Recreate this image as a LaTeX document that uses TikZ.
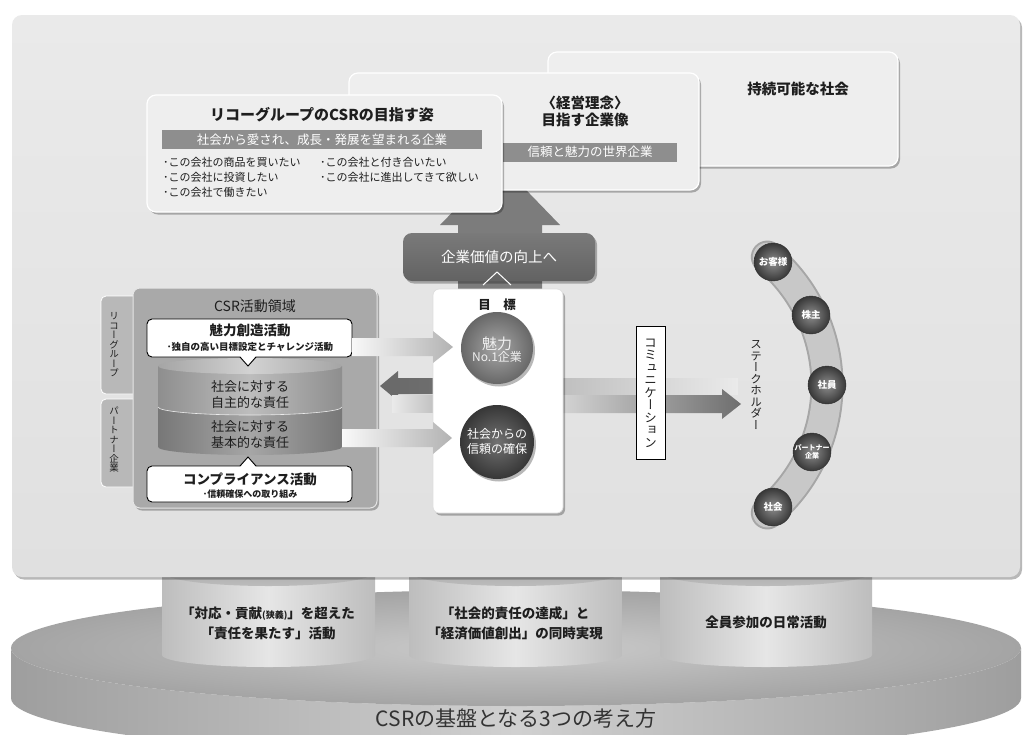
\documentclass[tikz,border=0pt]{standalone}
\usepackage{fontspec}
\setmainfont{Noto Sans CJK JP}
\newfontfamily\jpv[RawFeature=+vert]{Noto Sans CJK JP}
\usetikzlibrary{shadows}
\definecolor{panelA}{HTML}{EAEAEA}
\definecolor{panelB}{HTML}{E0E0E0}
\definecolor{boxfill}{HTML}{EEEEEE}
\definecolor{barfill}{HTML}{8E8E8E}
\definecolor{darkboxA}{HTML}{7A7A7A}
\definecolor{darkboxB}{HTML}{626262}
\definecolor{uparrow}{HTML}{7C7C7C}
\definecolor{csrfill}{HTML}{A9A9A9}
\definecolor{tabfill}{HTML}{B8B8B8}
\definecolor{ballA}{HTML}{8A8A8A}
\definecolor{ballB}{HTML}{4E4E4E}
\definecolor{ballS}{HTML}{505050}
\definecolor{bandout}{HTML}{A6A6A6}
\definecolor{bandin}{HTML}{C8C8C8}
\definecolor{txt}{HTML}{1E1E1E}
\definecolor{arrdark}{HTML}{6E6E6E}
\definecolor{arrlight}{HTML}{D4D4D4}
\definecolor{platE}{HTML}{9E9E9E}
\definecolor{platM}{HTML}{D0D0D0}
\definecolor{platI}{HTML}{CCCCCC}
\definecolor{platO}{HTML}{A4A4A4}
\definecolor{cylE}{HTML}{BDBDBD}
\definecolor{cylM}{HTML}{E6E6E6}
\definecolor{cylT}{HTML}{A2A2A2}
\definecolor{cylB}{HTML}{BCBCBC}
\definecolor{segUE}{HTML}{8E8E8E}
\definecolor{segUM}{HTML}{BDBDBD}
\definecolor{segLE}{HTML}{777777}
\definecolor{segLM}{HTML}{A6A6A6}
\definecolor{segTop}{HTML}{D2D2D2}
\newcommand\fsz[2]{\fontsize{#1}{#2}\selectfont}
\begin{document}
\begin{tikzpicture}[x=1pt,y=-1pt,
  every node/.style={inner sep=0pt, outer sep=0pt, text=txt},
  shadowed/.style={drop shadow={opacity=0.28, shadow xshift=2pt, shadow yshift=-2.5pt, fill=black}},
  bigbox/.style={anchor=north west, draw=white, line width=1.2pt, fill=boxfill, rounded corners=9pt, shadowed},
  bar/.style={fill=barfill, text=white, font=\fsz{12.5}{14}},
  callout/.style={anchor=north west, draw=black, line width=0.9pt, fill=white, rounded corners=5pt},
  bullet/.style={anchor=west, font=\fsz{11}{12}},
  btitle/.style={font=\bfseries\fsz{14.5}{17}},
  tabbox/.style={anchor=north west, fill=tabfill, draw=white, line width=0.8pt, rounded corners=5pt, minimum width=45pt},
  vtext/.style={align=center, font=\jpv\fsz{#1}{#1}},
  sball/.style={circle, minimum size=38pt, inner color=ballS!65!white, outer color=ballS!70!black, draw=ballS!60!black, line width=0.4pt, text=white, font=\bfseries\fsz{9.5}{10}},
  cyltext/.style={align=center, font=\bfseries\fsz{13.5}{20}},
  segtext/.style={align=center, font=\fsz{13}{16}}
]
\clip (0,0) rectangle (1032,734);
\fill[white] (0,0) rectangle (1032,734);

% ---------- base platform ----------
\path[left color=platE, right color=platE, middle color=platM]
  (11,648) -- (11,698) arc[start angle=180,end angle=0,x radius=505,y radius=58]
  -- (1021,648) arc[start angle=0,end angle=180,x radius=505,y radius=58] -- cycle;
\path[inner color=platI, outer color=platO] (516,648) ellipse[x radius=505, y radius=58];
\node[font=\fsz{21}{22}, text=black!80] (basetitle) at (516,719) {CSRの基盤となる3つの考え方};

% ---------- three pillars ----------
\foreach \xl/\xr in {162/375,409/622,660/872}{
  \pgfmathsetmacro\rx{(\xr-\xl)/2}
  \path[left color=cylE, right color=cylE, middle color=cylM]
    (\xl,560) -- (\xl,655) arc[start angle=180,end angle=0,x radius=\rx,y radius=12] -- (\xr,560) -- cycle;
  \path[top color=cylT, bottom color=cylB]
    (\xl,560) -- (\xl,572) arc[start angle=180,end angle=0,x radius=\rx,y radius=14] -- (\xr,560) -- cycle;
}
\node[cyltext] (p1) at (268,623) {「対応・貢献{\fsz{9}{10}(狭義)}」を超えた\\「責任を果たす」活動};
\node[cyltext] (p2) at (515,623) {「社会的責任の達成」と\\「経済価値創出」の同時実現};
\node[cyltext] (p3) at (766,622) {全員参加の日常活動};

% ---------- main panel ----------
\node[anchor=north west, minimum width=1008pt, minimum height=562pt, rounded corners=10pt,
      top color=panelA, bottom color=panelB, shadowed] (panel) at (12,15) {};

% ---------- upward arrow ----------
\fill[uparrow] (458,292) -- (458,225) -- (440,225) -- (500,163) -- (560,225) -- (542,225) -- (542,292) -- cycle;

% ---------- top boxes ----------
\node[bigbox, minimum width=350pt, minimum height=114pt] (sus) at (548,52) {};
\node[btitle] (sustext) at (798,89) {持続可能な社会};

\node[bigbox, minimum width=350pt, minimum height=117pt] (phil) at (349,73) {};
\node[btitle, align=center, font=\bfseries\fsz{14.5}{17}] (philtext) at (585,111) {〈経営理念〉\\目指す企業像};
\node[bar, minimum width=174pt, minimum height=19pt] (philbar) at (590,152) {信頼と魅力の世界企業};

\node[bigbox, minimum width=355pt, minimum height=117pt] (vision) at (147,95) {};
\node[btitle, font=\bfseries\fsz{15}{17}] (visiontitle) at (322,115) {リコーグループのCSRの目指す姿};
\node[bar, minimum width=320pt, minimum height=19pt] (visionbar) at (322,139.5) {社会から愛され、成長・発展を望まれる企業};
\node[bullet] (b1) at (163,162) {･この会社の商品を買いたい};
\node[bullet] (b2) at (163,177) {･この会社に投資したい};
\node[bullet] (b3) at (163,192) {･この会社で働きたい};
\node[bullet] (b4) at (320,162) {･この会社と付き合いたい};
\node[bullet] (b5) at (320,177) {･この会社に進出してきて欲しい};

% ---------- stakeholders ----------
\draw[bandout, line width=33pt, line cap=round] ([shift={(660,385)}]-50:167) arc[start angle=-50, end angle=50, radius=167];
\draw[bandin, line width=29pt, line cap=round] ([shift={(660,385)}]-50:167) arc[start angle=-50, end angle=50, radius=167];
\node[sball] (s1) at (773,262) {お客様};
\node[sball] (s2) at (811,315) {株主};
\node[sball] (s3) at (827,385) {社員};
\node[sball, align=center, font=\bfseries\fsz{7}{8}] (s4) at (812,452) {パートナー\\企業};
\node[sball] (s5) at (773,507) {社会};
\node[vtext=11.5] (stake) at (756,385) {ス\\テ\\ー\\ク\\ホ\\ル\\ダ\\ー};

% ---------- horizontal band arrows (behind goal box) ----------
\path[left color=arrdark!95!black, right color=arrdark]
  (433,378) -- (398,378) -- (398,371) -- (380,386) -- (398,401) -- (398,394) -- (433,394) -- cycle;
\path[left color=arrlight!90!black, right color=panelA] (560,378) rectangle (738,394);
\path[left color=panelA, right color=arrlight!90!black] (392,395) rectangle (436,412);
\path[left color=arrlight, right color=arrdark]
  (560,395) -- (722,395) -- (722,389) -- (741,404) -- (722,419) -- (722,413) -- (560,413) -- cycle;

% ---------- CSR activity area ----------
\node[tabbox, minimum height=98pt] (tab1) at (101,296) {};
\node[tabbox, minimum height=88pt] (tab2) at (101,399) {};
\node[vtext=9.5] (tab1text) at (114,345) {リ\\コ\\ー\\グ\\ル\\ー\\プ};
\node[vtext=9.5] (tab2text) at (114,440) {パ\\ー\\ト\\ナ\\ー\\企\\業};
\node[anchor=north west, minimum width=244pt, minimum height=220pt, rounded corners=7pt,
      fill=csrfill, draw=white!80!gray, line width=1pt, shadowed] (csr) at (133,288) {};
\node[font=\fsz{14}{16}] (csrtitle) at (255,306) {CSR活動領域};

% cylinder
\path[left color=segLE, right color=segLE, middle color=segLM]
  (158,407) -- (158,447) arc[start angle=180,end angle=0,x radius=92,y radius=8] -- (342,407) -- cycle;
\path[left color=segUE, right color=segUE, middle color=segUM]
  (158,366) -- (158,407) arc[start angle=180,end angle=0,x radius=92,y radius=8] -- (342,366) -- cycle;
\draw[white!85!gray, line width=0.6pt] (158,407) arc[start angle=180,end angle=0,x radius=92,y radius=8];
\path[left color=segUE!80!white, right color=segUE!80!white, middle color=segTop] (250,366) ellipse[x radius=92, y radius=8];
\node[segtext] (seg1) at (250,395) {社会に対する\\自主的な責任};
\node[segtext] (seg2) at (250,435) {社会に対する\\基本的な責任};

% callouts
\node[callout, minimum width=205pt, minimum height=38pt] (attr) at (147,319) {};
\fill[white] (240,356) -- (256,356) -- (248,366) -- cycle;
\draw[line width=0.9pt] (240,357) -- (248,366) -- (256,357);
\node[font=\bfseries\fsz{13.5}{15}] (attrt) at (250,330) {魅力創造活動};
\node[font=\bfseries\fsz{9.5}{11}] (attrs) at (250,347) {･独自の高い目標設定とチャレンジ活動};

\node[callout, minimum width=205pt, minimum height=36pt] (comp) at (147,466) {};
\fill[white] (240,467) -- (256,467) -- (248,457) -- cycle;
\draw[line width=0.9pt] (240,466) -- (248,457) -- (256,466);
\node[font=\bfseries\fsz{13.5}{15}] (compt) at (250,479) {コンプライアンス活動};
\node[font=\bfseries\fsz{9}{10}] (comps) at (250,494) {･信頼確保への取り組み};

% ---------- corporate value box and goal box ----------
\node[minimum width=192pt, minimum height=48pt, rounded corners=9pt, top color=darkboxA, bottom color=darkboxB,
      shadowed, text=white, font=\fsz{14.5}{16}] (value) at (499,257) {企業価値の向上へ};
\node[anchor=north west, minimum width=130pt, minimum height=224pt, rounded corners=6pt,
      fill=white, draw=gray!25, line width=0.8pt, shadowed] (goal) at (433,289) {};
\draw[white, line width=1pt] (483,285) -- (497,272) -- (511,285);
\node[font=\bfseries\fsz{12.5}{14}] (goaltitle) at (497,305) {目\hspace{1em}標};
\node[circle, minimum size=72pt, inner color=ballA!75!white, outer color=ballA!75!black, shadowed] (g1) at (497,348) {};
\node[align=center, text=white!88!gray] (g1t) at (497,350) {{\fsz{15}{17}魅力}\\{\fsz{12}{13}No.1企業}};
\node[circle, minimum size=74pt, inner color=ballB!80!white, outer color=ballB!70!black, shadowed] (g2) at (497,442) {};
\node[align=center, text=white, font=\fsz{12}{15}] (g2t) at (497,441) {社会からの\\信頼の確保};

% arrows from CSR area to goals
\path[left color=white!95!gray, right color=gray!60]
  (352,338) -- (433,338) -- (433,331) -- (453,347) -- (433,363) -- (433,356) -- (352,356) -- cycle;
\path[left color=white!95!gray, right color=gray!60]
  (342,429) -- (433,429) -- (433,422) -- (452,438) -- (433,454) -- (433,447) -- (342,447) -- cycle;

% ---------- communication ----------
\node[draw=black, line width=1pt, fill=white, minimum width=29pt, minimum height=133pt,
      vtext=12.5] (comm) at (650.5,393) {コ\\ミ\\ュ\\ニ\\ケ\\ー\\シ\\ョ\\ン};
\end{tikzpicture}
\end{document}
